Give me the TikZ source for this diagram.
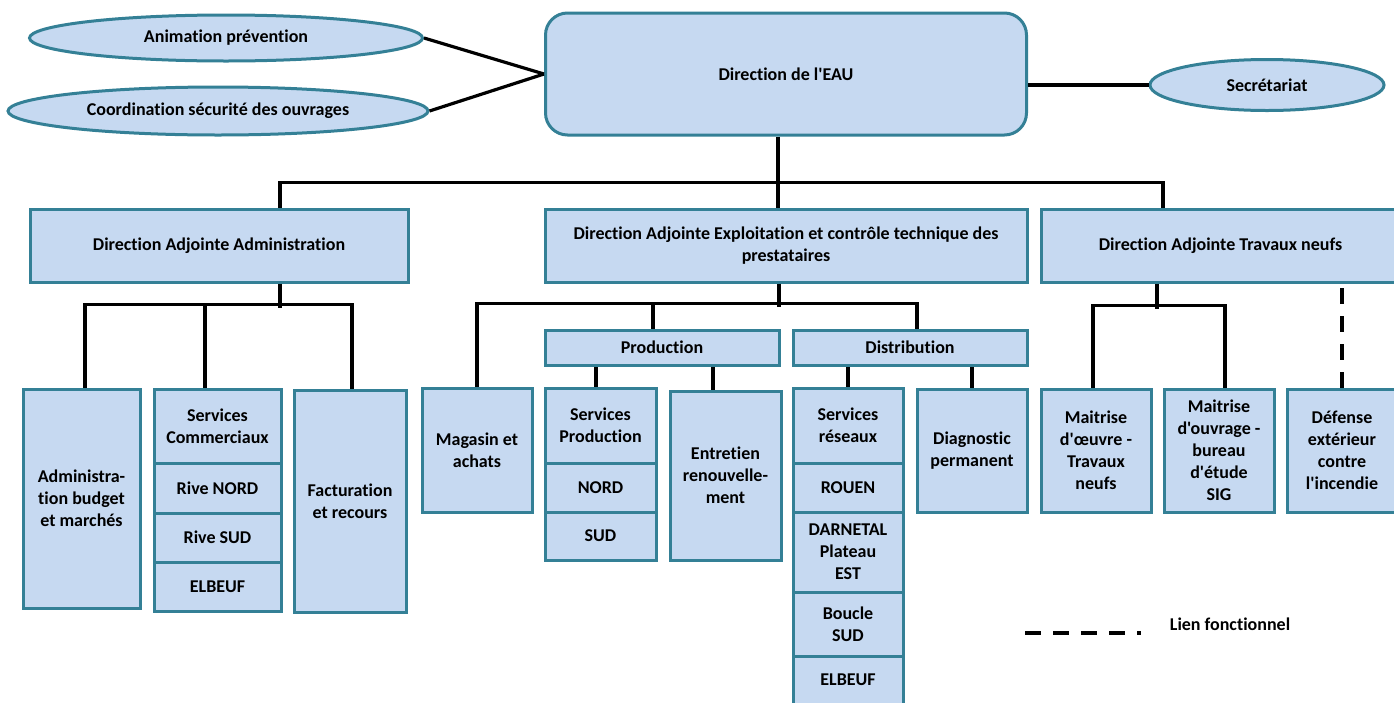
\documentclass[tikz,border=0pt]{standalone}
\usepackage{fontspec}
\setmainfont{Carlito}[Ligatures={TeXOff,NoCommon}]
\usetikzlibrary{shapes.geometric}
\definecolor{boxfill}{RGB}{198,217,241}
\definecolor{boxline}{RGB}{52,128,150}
\tikzset{
  base/.style={draw=boxline, fill=boxfill, line width=3pt, inner sep=0pt,
    font=\bfseries\fontsize{18}{22}\selectfont, align=center, text=black},
  box/.style={base, rectangle},
  oval/.style={base, ellipse},
  conn/.style={line width=3.2pt, black},
  fconn/.style={line width=3.2pt, black, dash pattern=on 16pt off 12pt},
}
\newcommand\bx[6]{\node[box, minimum width={#4-#2}, minimum height={#5-#3}] (#1) at ({(#2+#4)/2},{(#3+#5)/2}) {#6};}
\begin{document}
\begin{tikzpicture}[x=1pt,y=-1pt]
\useasboundingbox (0,0) rectangle (1394,702);
\fill[white] (0,0) rectangle (1394,702);
% top level
\node[oval, minimum width=393, minimum height=46] (anim) at (226,38) {Animation prévention};
\node[oval, minimum width=420, minimum height=48] (coord) at (218,111) {Coordination sécurité des ouvrages};
\node[box, rounded corners=22pt, minimum width=481, minimum height=122] (eau) at (786,74) {Direction de l'EAU};
\node[oval, minimum width=234, minimum height=51] (secr) at (1267,85) {Secrétariat};
% deputy directions
\bx{daa}{30}{209}{408}{282}{Direction Adjointe Administration}
\bx{dae}{545}{209}{1027}{282}{Direction Adjointe Exploitation et contrôle technique des\\prestataires}
\bx{dat}{1041}{209}{1400}{282}{Direction Adjointe Travaux neufs}
% administration
\bx{admbud}{23}{389}{140}{608}{Administra-\\tion budget\\et marchés}
\bx{scom}{154}{389}{281}{463}{Services\\Commerciaux}
\bx{rnord}{154}{463}{281}{513}{Rive NORD}
\bx{rsud}{154}{513}{281}{562}{Rive SUD}
\bx{elb1}{154}{562}{281}{611}{ELBEUF}
\bx{fact}{294}{390}{406}{612}{Facturation\\et recours}
% exploitation
\bx{mag}{422}{388}{532}{512}{Magasin et\\achats}
\bx{prod}{545}{330}{779}{365}{Production}
\bx{dist}{793}{330}{1027}{365}{Distribution}
\bx{sprod}{545}{388}{656}{463}{Services\\Production}
\bx{pnord}{545}{463}{656}{512}{NORD}
\bx{psud}{545}{512}{656}{560}{SUD}
\bx{entr}{670}{391}{781}{560}{Entretien\\renouvelle-\\ment}
\bx{sres}{793}{388}{903}{463}{Services\\réseaux}
\bx{rouen}{793}{463}{903}{512}{ROUEN}
\bx{darn}{793}{512}{903}{592}{DARNETAL\\Plateau\\EST}
\bx{boucle}{793}{592}{903}{656}{Boucle\\SUD}
\bx{elb2}{793}{656}{903}{712}{\raisebox{8pt}{ELBEUF}}
\bx{diag}{917}{389}{1027}{512}{Diagnostic\\permanent}
% travaux
\bx{moe}{1041}{389}{1151}{512}{Maitrise\\d'œuvre -\\Travaux\\neufs}
\bx{mou}{1164}{389}{1274}{512}{Maitrise\\d'ouvrage -\\bureau\\d'étude\\SIG}
\bx{def}{1287}{389}{1397}{512}{Défense\\extérieur\\contre\\l'incendie}
% connectors top
\draw[conn] (anim.east) -- (eau.west);
\draw[conn] (coord.east) -- (eau.west);
\draw[conn] ([yshift=-11pt]eau.east) -- (secr.west);
\draw[conn] ([xshift=-8pt]eau.south) -- ([xshift=-8pt]dae.north);
\draw[conn] ([xshift=61pt]daa.north) -- ++(0,-25) -| ([xshift=-57.5pt]dat.north);
% administration
\draw[conn] ([xshift=61pt]daa.south) -- ++(0,24);
\draw[conn] ([xshift=3.5pt]admbud.north) -- ++(0,-83) -| ([xshift=2pt]fact.north);
\draw[conn] ([xshift=-12.5pt]scom.north) -- ++(0,-83);
% exploitation
\draw[conn] ([xshift=-7pt]dae.south) -- ++(0,23);
\draw[conn] (mag.north) -- ++(0,-83) -| ([xshift=7pt]dist.north);
\draw[conn] ([xshift=-9pt]prod.north) -- ++(0,-25);
\draw[conn] ([xshift=-4.5pt]sprod.north) -- ([xshift=-4.5pt]sprod.north |- prod.south);
\draw[conn] ([xshift=-12.5pt]entr.north) -- ([xshift=-12.5pt]entr.north |- prod.south);
\draw[conn] (sres.north) -- (sres.north |- dist.south);
\draw[conn] (diag.north) -- (diag.north |- dist.south);
% travaux
\draw[conn] ([xshift=-63.5pt]dat.south) -- ++(0,25);
\draw[conn] ([xshift=-3pt]moe.north) -- ++(0,-82) -| ([xshift=6pt]mou.north);
\draw[fconn] (def.north) -- (def.north |- dat.south);
% legend
\coordinate (leg1) at (1025,633);
\coordinate (leg2) at (1141,633);
\draw[fconn] (leg1) -- (leg2);
\node[font=\bfseries\fontsize{18}{22}\selectfont] (lien) at (1230,624) {Lien fonctionnel};
\end{tikzpicture}
\end{document}
